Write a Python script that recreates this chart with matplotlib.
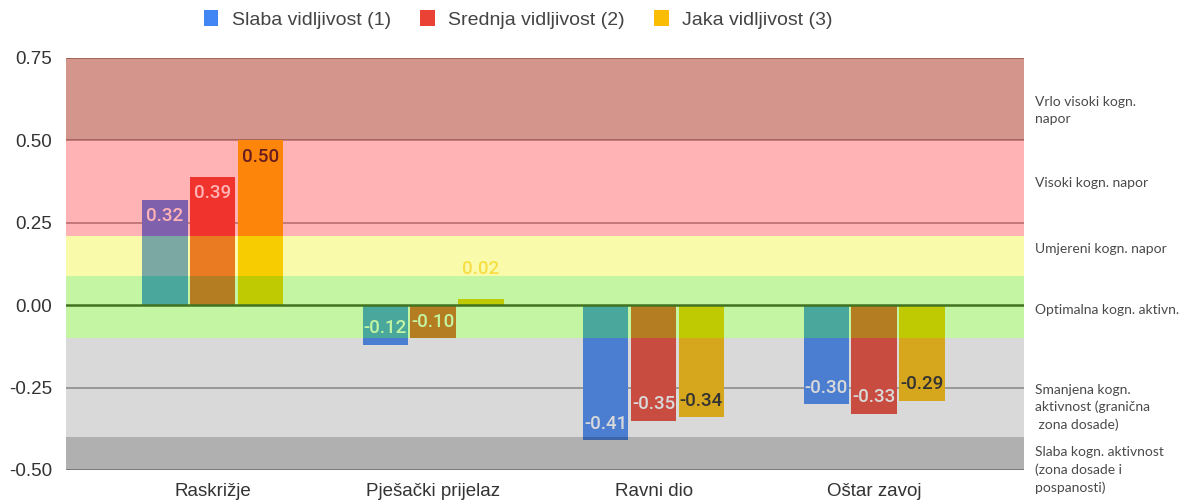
import matplotlib
matplotlib.use("Agg")
import matplotlib.pyplot as plt
from matplotlib.patches import Patch
from matplotlib.transforms import blended_transform_factory
import numpy as np

# ---------------- data ----------------
categories = ["Raskrižje", "Pješački prijelaz", "Ravni dio", "Oštar zavoj"]
series_names = ["Slaba vidljivost (1)", "Srednja vidljivost (2)", "Jaka vidljivost (3)"]
slaba = [0.32, -0.12, -0.41, -0.30]
srednja = [0.39, -0.10, -0.35, -0.33]
jaka = [0.50, 0.02, -0.34, -0.29]
yticks = [-0.50, -0.25, 0.00, 0.25, 0.50, 0.75]

# zone bands (lower, upper) and their labels
band_lower = [-0.50, -0.40, -0.10, 0.09, 0.21, 0.50]
band_upper = [-0.40, -0.10, 0.09, 0.21, 0.50, 0.75]
zone_labels = [
    "Slaba kogn. aktivnost\n(zona dosade i\npospanosti)",
    "Smanjena kogn.\naktivnost (granična\n zona dosade)",
    "Optimalna kogn. aktivn.",
    "Umjereni kogn. napor",
    "Visoki kogn. napor",
    "Vrlo visoki kogn.\nnapor",
]

# ---------------- style ----------------
series_colors = ["#4285F4", "#EA4335", "#FBBC04"]
label_colors = ["#ffffff", "#ffffff", "#222222"]
band_colors = ["#303030", "#686868", "#59e400", "#f0f000", "#ff1319", "#a01600"]
band_alpha = [0.38, 0.25, 0.36, 0.33, 0.32, 0.45]
zone_label_y = [-0.50, -0.31, -0.015, 0.17, 0.37, 0.59]

fig = plt.figure(figsize=(11.86, 5.03), dpi=100)
ax = fig.add_axes([66 / 1186, 1 - 470 / 503, (1024 - 66) / 1186, (470 - 58) / 503])

x = np.arange(len(categories))
pitch = 0.2168
width = 0.206
all_series = [slaba, srednja, jaka]

for i, (vals, col, lcol) in enumerate(zip(all_series, series_colors, label_colors)):
    xs = x + (i - 1) * pitch
    ax.bar(xs, vals, width=width, color=col, zorder=2, linewidth=0)
    for xi, v in zip(xs, vals):
        if abs(v) < 0.05:
            ax.text(xi, v + 0.09, f"{v:.2f}", ha="center", va="center",
                    color=col, alpha=0.6, fontsize=13.5, family="Roboto",
                    fontweight="medium", zorder=2.5)
        else:
            ax.text(xi, v - np.sign(v) * 0.05, f"{v:.2f}", ha="center", va="center",
                    color=lcol, fontsize=13.5, family="Roboto", fontweight="medium",
                    zorder=2.5)

# gridlines and baseline
for t in yticks:
    if t == 0:
        continue
    ax.axhline(t, color="#9a9a9a", lw=1.2, zorder=1)
ax.axhline(0, color="#333333", lw=1.8, zorder=2.6)

# translucent zone overlays (tint bars too)
for lo, hi, c, a in zip(band_lower, band_upper, band_colors, band_alpha):
    ax.axhspan(lo, hi, color=c, alpha=a, lw=0, zorder=3)

ax.set_ylim(-0.5, 0.75)
ax.set_xlim(-0.665, 3.68)
ax.set_yticks(yticks)
ax.set_yticklabels([f"{t:.2f}" for t in yticks])
ax.set_xticks(x)
ax.set_xticklabels(categories)
for sp in ax.spines.values():
    sp.set_visible(False)
ax.tick_params(axis="both", length=0, labelsize=13.5, colors="#333333")
ax.tick_params(axis="y", pad=10)
ax.tick_params(axis="x", pad=9)
for lab in ax.get_xticklabels() + ax.get_yticklabels():
    lab.set_family("Liberation Sans")

# zone labels at right
trans = blended_transform_factory(ax.transAxes, ax.transData)
for txt, yy in zip(zone_labels, zone_label_y):
    ax.text(1.012, yy, txt, transform=trans, ha="left", va="center",
            fontsize=10, family="Lato", color="#4a4a4a", linespacing=1.5,
            clip_on=False)

handles = [Patch(facecolor=c, edgecolor="none") for c in series_colors]
fig.legend(handles, series_names, loc="center", bbox_to_anchor=(0.437, 0.962),
           ncol=3, frameon=False, handlelength=0.75, handleheight=0.9,
           columnspacing=1.5, handletextpad=0.7,
           prop={"family": "Liberation Sans", "size": 14})
for t in fig.legends[0].get_texts():
    t.set_color("#444444")

fig.savefig("out.png", dpi=100, facecolor="white")
